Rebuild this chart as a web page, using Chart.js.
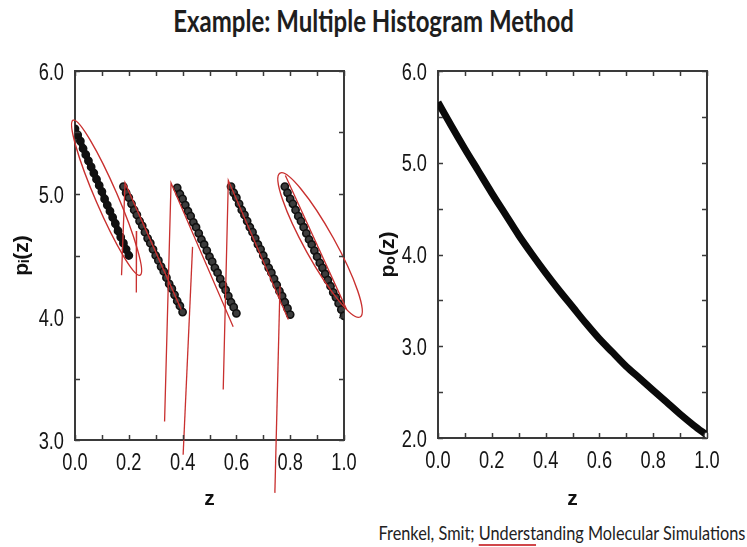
<!DOCTYPE html>
<html>
<head>
<meta charset="utf-8">
<script src="https://cdn.jsdelivr.net/npm/chart.js@4.4.1/dist/chart.umd.min.js"></script>
<style>
  body { margin: 0; width: 747px; height: 547px; background: #fff; position: relative; overflow: hidden; }
  #title { position: absolute; left: 0; top: 2px; width: 747px; text-align: center; white-space: nowrap;
           font: 700 30px Lato, "Open Sans", sans-serif; color: #1e1e1e; transform: scaleX(0.8); }
  #credit { position: absolute; left: 332px; top: 521px; width: 460px; text-align: center; white-space: nowrap;
            font: 400 19px Lato, "Open Sans", sans-serif; color: #222; transform: scaleX(0.857); }
  #credit .pen { text-decoration: underline; text-decoration-color: #d0464a;
                 text-decoration-thickness: 1.5px; text-underline-offset: 4px; }
  .panel { position: absolute; top: 50px; }
</style>
</head>
<body>
<div id="title">Example: Multiple Histogram Method</div>

<div class="panel" style="left:0"><canvas id="left" width="372" height="462"></canvas></div>
<div class="panel" style="left:372px"><canvas id="right" width="375" height="462"></canvas></div>

<div id="credit">Frenkel, Smit; <span class="pen">Underst</span>anding Molecular Simulations</div>

<script>
// left panel: p_i(z) from the five windows
const seg1Z = [0.00, 0.01, 0.02, 0.03, 0.04, 0.05, 0.06, 0.07, 0.08, 0.09, 0.10,
               0.11, 0.12, 0.13, 0.14, 0.15, 0.16, 0.17, 0.18, 0.19, 0.20]
const seg1P = [5.53, 5.48, 5.43, 5.37, 5.32, 5.27, 5.22, 5.17, 5.12, 5.07, 5.02,
               4.96, 4.91, 4.86, 4.81, 4.76, 4.70, 4.65, 4.60, 4.55, 4.50]

const seg2Z = [0.18, 0.19, 0.20, 0.21, 0.22, 0.23, 0.24, 0.25, 0.26, 0.27, 0.28, 0.29,
               0.30, 0.31, 0.32, 0.33, 0.34, 0.35, 0.36, 0.37, 0.38, 0.39, 0.40]
const seg2P = [5.06, 5.01, 4.97, 4.92, 4.87, 4.83, 4.78, 4.74, 4.69, 4.64, 4.60, 4.55,
               4.50, 4.46, 4.41, 4.37, 4.32, 4.27, 4.23, 4.18, 4.13, 4.09, 4.04]

const seg3Z = [0.38, 0.39, 0.40, 0.41, 0.42, 0.43, 0.44, 0.45, 0.46, 0.47, 0.48, 0.49,
               0.50, 0.51, 0.52, 0.53, 0.54, 0.55, 0.56, 0.57, 0.58, 0.59, 0.60]
const seg3P = [5.05, 5.00, 4.96, 4.91, 4.86, 4.82, 4.77, 4.73, 4.68, 4.63, 4.59, 4.54,
               4.49, 4.45, 4.40, 4.36, 4.31, 4.26, 4.22, 4.17, 4.12, 4.08, 4.03]

const seg4Z = [0.58, 0.59, 0.60, 0.61, 0.62, 0.63, 0.64, 0.65, 0.66, 0.67, 0.68, 0.69,
               0.70, 0.71, 0.72, 0.73, 0.74, 0.75, 0.76, 0.77, 0.78, 0.79, 0.80]
const seg4P = [5.06, 5.01, 4.97, 4.92, 4.87, 4.83, 4.78, 4.73, 4.69, 4.64, 4.59, 4.55,
               4.50, 4.45, 4.40, 4.36, 4.31, 4.26, 4.21, 4.17, 4.12, 4.07, 4.02]

const seg5Z = [0.78, 0.79, 0.80, 0.81, 0.82, 0.83, 0.84, 0.85, 0.86, 0.87, 0.88, 0.89,
               0.90, 0.91, 0.92, 0.93, 0.94, 0.95, 0.96, 0.97, 0.98, 0.99, 1.00]
const seg5P = [5.06, 5.01, 4.96, 4.92, 4.87, 4.82, 4.78, 4.73, 4.68, 4.63, 4.59, 4.54,
               4.49, 4.44, 4.40, 4.35, 4.30, 4.25, 4.20, 4.16, 4.11, 4.06, 4.01]

// right panel: combined p_0(z)
const p0Z = [0.00, 0.05, 0.10, 0.15, 0.20, 0.25, 0.30, 0.35, 0.40, 0.45, 0.50,
             0.55, 0.60, 0.65, 0.70, 0.75, 0.80, 0.85, 0.90, 0.95, 1.00]
const p0P = [5.66, 5.40, 5.15, 4.91, 4.67, 4.44, 4.21, 4.00, 3.80, 3.61, 3.43,
             3.25, 3.08, 2.93, 2.78, 2.65, 2.52, 2.39, 2.26, 2.14, 2.03]

// hand-drawn red pen strokes on the left panel, in (z, p) units
const penStrokes = [
  [[0.173, 4.34], [0.186, 5.09], [0.395, 4.06]],
  [[0.229, 4.70], [0.228, 4.20]],
  [[0.333, 3.15], [0.357, 5.09], [0.588, 3.92]],
  [[0.402, 2.88], [0.437, 4.57]],
  [[0.551, 3.41], [0.570, 5.11], [0.793, 3.98]],
  [[0.743, 2.57], [0.762, 4.25]],
  [[0.782, 5.15], [1.010, 4.06]]
]
// ends of the long axis of the two red loops
const penLoops = [
  [[-0.007, 5.60], [0.242, 4.34]],
  [[0.762, 5.17], [1.060, 4.00]]
]

const xLabels = ["0.0", "0.2", "0.4", "0.6", "0.8", "1.0"]
const leftYLabels = ["3.0", "4.0", "5.0", "6.0"]
const rightYLabels = ["2.0", "3.0", "4.0", "5.0", "6.0"]

const TICK_FONT = '"Liberation Sans", Arial, sans-serif'
const AXIS = "#3a3a3a"
const RED = "#c9302f"

const pts = (xs, ys) => xs.map((x, i) => ({ x: x, y: ys[i] }))
const pick = (labels, v) => {
  const s = (Math.round(v * 10) / 10).toFixed(1)
  return labels.includes(s) ? s : ""
}

const loopPlugin = {
  id: "penLoops",
  afterDatasetsDraw(chart, args, opts) {
    if (!opts.loops) return
    const { ctx, scales: { x, y } } = chart
    ctx.save()
    ctx.strokeStyle = RED
    ctx.lineWidth = 1.4
    opts.loops.forEach(([a, b], i) => {
      const x1 = x.getPixelForValue(a[0]), y1 = y.getPixelForValue(a[1])
      const x2 = x.getPixelForValue(b[0]), y2 = y.getPixelForValue(b[1])
      ctx.beginPath()
      ctx.ellipse((x1 + x2) / 2, (y1 + y2) / 2, Math.hypot(x2 - x1, y2 - y1) / 2,
        opts.halfWidths[i], Math.atan2(y2 - y1, x2 - x1), 0, Math.PI * 2)
      ctx.stroke()
    })
    ctx.restore()
  }
}

// inward tick marks on all four sides, plus narrow tick labels like the scanned figure
const frameTicks = {
  id: "frameTicks",
  afterDraw(chart, args, opts) {
    const { ctx, chartArea: a, scales: { x, y } } = chart
    const len = 5
    ctx.save()
    ctx.strokeStyle = AXIS
    ctx.lineWidth = 1.5
    ctx.beginPath()
    x.ticks.forEach(t => {
      const px = Math.round(x.getPixelForValue(t.value)) + 0.5
      ctx.moveTo(px, a.bottom); ctx.lineTo(px, a.bottom - len)
      ctx.moveTo(px, a.top); ctx.lineTo(px, a.top + len)
    })
    y.ticks.forEach(t => {
      const py = Math.round(y.getPixelForValue(t.value)) + 0.5
      ctx.moveTo(a.left, py); ctx.lineTo(a.left + len, py)
      ctx.moveTo(a.right, py); ctx.lineTo(a.right - len, py)
    })
    ctx.stroke()

    ctx.fillStyle = "#151515"
    ctx.font = "24px " + TICK_FONT
    ctx.textBaseline = "middle"
    const put = (text, px, py, align) => {
      ctx.save()
      ctx.translate(px, py)
      ctx.scale(0.76, 1)
      ctx.textAlign = align
      ctx.fillText(text, 0, 0)
      ctx.restore()
    }
    x.ticks.forEach(t => {
      const s = pick(xLabels, t.value)
      if (s) put(s, x.getPixelForValue(t.value), a.bottom + 23, "center")
    })
    y.ticks.forEach(t => {
      const s = pick(opts.yLabels, t.value)
      if (s) put(s, a.left - 11, y.getPixelForValue(t.value) + 2, "right")
    })
    ctx.restore()
  }
}

function frame(o) {
  const grid = { display: false }
  const border = { display: true, color: AXIS, width: 2 }
  const titleFont = { family: '"Liberation Sans", Arial, sans-serif', size: 21, weight: "bold" }
  return {
    x: {
      type: "linear", position: "bottom", min: 0, max: 1, grid, border,
      ticks: { stepSize: 0.1, autoSkip: false, display: false },
      title: { display: true, text: "z", color: "#111", font: titleFont, padding: 0 },
      afterFit: s => { s.height = o.xHeight }
    },
    x2: {
      type: "linear", position: "top", min: 0, max: 1, grid, border,
      ticks: { display: false },
      afterFit: s => { s.height = 0 }
    },
    y: {
      type: "linear", position: "left", min: o.yMin, max: 6, grid, border,
      ticks: { stepSize: 0.5, autoSkip: false, display: false },
      title: { display: true, text: o.yTitle, color: "#111", font: titleFont,
               padding: { top: o.titlePad, bottom: 0 } },
      afterFit: s => { s.width = o.yWidth }
    },
    y2: {
      type: "linear", position: "right", min: o.yMin, max: 6, grid, border,
      ticks: { display: false },
      afterFit: s => { s.width = 0 }
    }
  }
}

const segStyle = {
  type: "line", order: 1, showLine: true, borderColor: "#111", borderWidth: 3,
  pointStyle: "circle", pointRadius: 3.6, pointBorderWidth: 1.6,
  pointBorderColor: "#111", pointBackgroundColor: "#3c3c3c", tension: 0
}

new Chart(document.getElementById("left"), {
  type: "line",
  data: {
    datasets: [
      ...penStrokes.map(s => ({
        data: s.map(p => ({ x: p[0], y: p[1] })), order: 0, clip: false,
        borderColor: RED, borderWidth: 1.3, pointRadius: 0, tension: 0
      })),
      { ...segStyle, data: pts(seg1Z, seg1P), borderWidth: 6, pointBackgroundColor: "#111" },
      { ...segStyle, data: pts(seg2Z, seg2P) },
      { ...segStyle, data: pts(seg3Z, seg3P) },
      { ...segStyle, data: pts(seg4Z, seg4P) },
      { ...segStyle, data: pts(seg5Z, seg5P) }
    ]
  },
  options: {
    responsive: false, animation: false, devicePixelRatio: 1,
    layout: { padding: { left: 0, top: 21, right: 28, bottom: 0 } },
    plugins: {
      legend: { display: false }, tooltip: { enabled: false },
      penLoops: { loops: penLoops, halfWidths: [11, 15] },
      frameTicks: { yLabels: leftYLabels }
    },
    scales: frame({ yMin: 3, yTitle: "pᵢ(z)", xHeight: 72, yWidth: 75, titlePad: 10 })
  },
  plugins: [loopPlugin, frameTicks]
})

new Chart(document.getElementById("right"), {
  type: "line",
  data: {
    datasets: [{
      data: pts(p0Z, p0P), borderColor: "#0a0a0a", borderWidth: 7,
      cubicInterpolationMode: "monotone",
      pointRadius: c => (c.dataIndex === p0Z.length - 1 ? 3 : 0),
      pointBorderColor: "#333", pointBackgroundColor: "#fff", pointBorderWidth: 1.2
    }]
  },
  options: {
    responsive: false, animation: false, devicePixelRatio: 1,
    layout: { padding: { left: 0, top: 21, right: 40, bottom: 0 } },
    plugins: {
      legend: { display: false }, tooltip: { enabled: false },
      frameTicks: { yLabels: rightYLabels }
    },
    scales: frame({ yMin: 2, yTitle: "pₒ(z)", xHeight: 74, yWidth: 66, titlePad: 4 })
  },
  plugins: [frameTicks]
})
</script>
</body>
</html>
